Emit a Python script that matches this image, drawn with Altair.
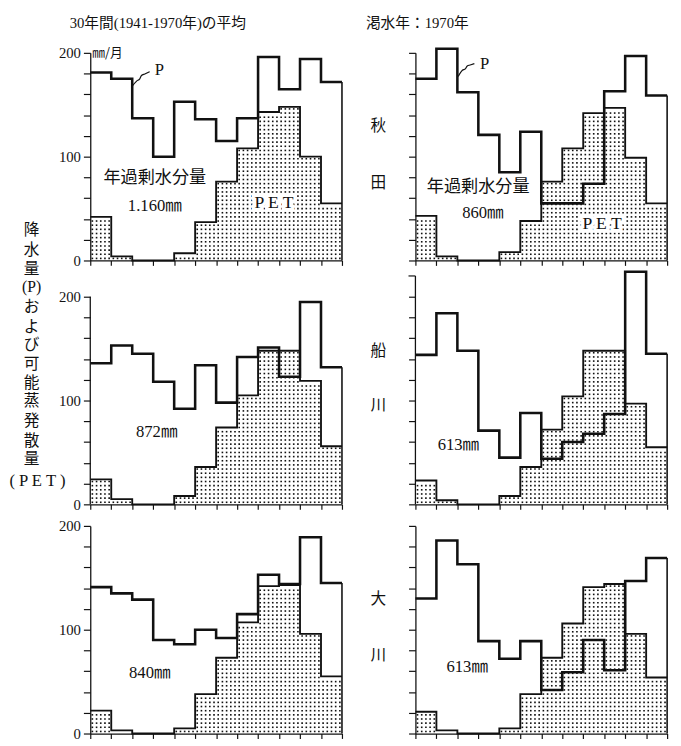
import altair as alt
import pandas as pd

# water-year months (Nov .. Oct), 12 intervals per panel
P_akita_avg = [181, 175, 137, 100, 153, 136, 115, 137, 196, 165, 194, 172]
PET_akita_avg = [42, 4, 0, 0, 7, 37, 76, 108, 143, 148, 100, 55]
P_akita_1970 = [175, 204, 162, 121, 85, 124, 55, 55, 74, 163, 197, 159]
PET_akita_1970 = [43, 4, 0, 0, 8, 38, 76, 108, 142, 147, 99, 55]
P_funa_avg = [136, 153, 145, 118, 92, 134, 98, 142, 151, 123, 195, 132]
PET_funa_avg = [24, 5, 0, 0, 8, 36, 74, 105, 148, 148, 119, 56]
P_funa_1970 = [144, 184, 148, 71, 45, 88, 44, 60, 68, 87, 224, 145]
PET_funa_1970 = [23, 4, 0, 0, 8, 36, 72, 104, 148, 148, 97, 55]
P_oga_avg = [141, 135, 129, 90, 86, 100, 92, 115, 153, 144, 189, 145]
PET_oga_avg = [22, 3, 0, 0, 5, 38, 73, 107, 142, 143, 96, 55]
P_oga_1970 = [130, 186, 163, 89, 72, 89, 42, 59, 90, 61, 147, 169]
PET_oga_1970 = [21, 3, 0, 0, 5, 38, 73, 106, 141, 144, 96, 54]

surplus_labels = ["1.160㎜", "860㎜", "872㎜", "613㎜", "840㎜", "613㎜"]
col_titles = ["30年間(1941-1970年)の平均", "渇水年：1970年"]
station_chars = [["秋", "田"], ["船", "川"], ["大", "川"]]
ylabel_chars = ["降", "水", "量", "(P)", "お", "よ", "び", "可", "能", "蒸", "発", "散", "量"]
ylabel_vals = [264, 245, 227, 209, 190, 171, 153, 135, 117, 99, 80, 61, 44]

SERIF = "Liberation Serif, Noto Sans CJK JP"
CJK = "Noto Sans CJK JP"
W, H = 257, 212
H2 = 227  # middle row: extra room above the 200 level
INK = "#111111"


def step_df(vals):
    return pd.DataFrame({"x": list(range(13)), "v": list(vals) + [vals[-1]]})


def dots_df(pet):
    rows = []
    for i, p in enumerate(pet):
        for j in range(5):
            xx = i + 0.1 + 0.2 * j
            yy = 2.0
            while yy <= p - 1.5:
                rows.append((xx, yy))
                yy += 4.0
    return pd.DataFrame(rows, columns=["x", "v"])


def enc(show_labels, ymax, ydomain):
    xs = alt.X("x:Q", scale=alt.Scale(domain=[0, 12], nice=False, zero=False),
               axis=alt.Axis(values=list(range(13)), labels=False, tickSize=5,
                             title=None, grid=False))
    ys = alt.Y("v:Q", scale=alt.Scale(domain=[0, ymax], nice=False),
               axis=alt.Axis(values=list(range(0, 201, 20)), labels=show_labels,
                             labelExpr="datum.value % 100 == 0 ? datum.label : ''",
                             labelFont="Liberation Serif", labelFontSize=15,
                             labelColor=INK, labelPadding=3, tickSize=7,
                             domain=ydomain, title=None, grid=False))
    return xs, ys


def text_layer(df, font, size, xs, ys, halo=False, align="center"):
    base = alt.Chart(df)
    layers = []
    if halo:
        layers.append(base.mark_text(font=font, fontSize=size, fill="white",
                                     stroke="white", strokeWidth=7, align=align,
                                     baseline="middle").encode(x=xs, y=ys, text="t:N"))
    layers.append(base.mark_text(font=font, fontSize=size, color=INK, align=align,
                                 baseline="middle").encode(x=xs, y=ys, text="t:N"))
    return layers


def panel(P, PET, left, extras, height=H, axis_top=None):
    ymax = 200.0 * height / H
    xs, ys = enc(left, ymax, axis_top is None)
    layers = [
        alt.Chart(dots_df(PET)).mark_square(size=2.7, color=INK, opacity=1).encode(x=xs, y=ys),
        alt.Chart(step_df(PET)).mark_line(interpolate="step-after", color=INK,
                                          strokeWidth=1.9).encode(x=xs, y=ys),
        alt.Chart(step_df(P)).mark_line(interpolate="step-after", color=INK,
                                        strokeWidth=2.6).encode(x=xs, y=ys),
        alt.Chart(pd.DataFrame({"x": [12], "v": [0], "v2": [P[-1]]})).mark_rule(
            color=INK, strokeWidth=1.6).encode(x=xs, y=ys, y2="v2:Q"),
    ]
    if axis_top is not None:
        layers.append(alt.Chart(pd.DataFrame({"x": [0], "v": [0], "v2": [axis_top]})).mark_rule(
            color=INK, strokeWidth=1.3).encode(x=xs, y=ys, y2="v2:Q"))
    layers += extras(xs, ys)
    return alt.layer(*layers).properties(width=W, height=height)


def ex_akita_avg(xs, ys):
    out = []
    out += text_layer(pd.DataFrame({"x": [3.22], "v": [229], "t": [col_titles[0]]}), SERIF, 15, xs, ys)
    out += text_layer(pd.DataFrame({"x": [0.1], "v": [200], "t": ["㎜/月"]}), CJK, 13, xs, ys, align="left")
    out += text_layer(pd.DataFrame({"x": [3.3], "v": [183], "t": ["P"]}), SERIF, 17, xs, ys)
    ptr = pd.DataFrame({"x": [1.97, 2.21, 2.36, 2.44, 2.60, 2.83],
                        "v": [167.2, 172.8, 175.0, 178.2, 179.7, 181.9]})
    out.append(alt.Chart(ptr).mark_line(color=INK, strokeWidth=1.2, interpolate="monotone").encode(x=xs, y=ys))
    out += text_layer(pd.DataFrame({"x": [3.08], "v": [79.6], "t": ["年過剰水分量"]}), CJK, 17.5, xs, ys)
    out += text_layer(pd.DataFrame({"x": [3.08], "v": [52.4], "t": [surplus_labels[0]]}), SERIF, 17, xs, ys)
    out += text_layer(pd.DataFrame({"x": [8.76], "v": [55], "t": ["P E T"]}), SERIF, 18, xs, ys, halo=True)
    return out


def ex_akita_1970(xs, ys):
    out = []
    out += text_layer(pd.DataFrame({"x": [0.09], "v": [229], "t": [col_titles[1]]}), SERIF, 15, xs, ys)
    out += text_layer(pd.DataFrame({"x": [-1.77, -1.77], "v": [129.5, 75], "t": station_chars[0]}), CJK, 16, xs, ys)
    out += text_layer(pd.DataFrame({"x": [3.3], "v": [189], "t": ["P"]}), SERIF, 17, xs, ys)
    ptr = pd.DataFrame({"x": [2.04, 2.24, 2.38, 2.47, 2.61, 2.81],
                        "v": [177.2, 183.2, 184.6, 187.4, 188.3, 189.6]})
    out.append(alt.Chart(ptr).mark_line(color=INK, strokeWidth=1.2, interpolate="monotone").encode(x=xs, y=ys))
    out += text_layer(pd.DataFrame({"x": [2.99], "v": [70.3], "t": ["年過剰水分量"]}), CJK, 17.5, xs, ys)
    out += text_layer(pd.DataFrame({"x": [3.22], "v": [45.8], "t": [surplus_labels[1]]}), SERIF, 17, xs, ys)
    out += text_layer(pd.DataFrame({"x": [8.9], "v": [35.5], "t": ["P E T"]}), SERIF, 18, xs, ys, halo=True)
    return out


def ex_funa_avg(xs, ys):
    out = []
    out += text_layer(pd.DataFrame({"x": [-2.8] * len(ylabel_chars), "v": ylabel_vals,
                                    "t": ylabel_chars}), SERIF, 16, xs, ys)
    out += text_layer(pd.DataFrame({"x": [-2.52], "v": [22], "t": ["( P E T )"]}), SERIF, 17, xs, ys)
    out += text_layer(pd.DataFrame({"x": [3.17], "v": [69.4], "t": [surplus_labels[2]]}), SERIF, 17, xs, ys)
    return out


def ex_funa_1970(xs, ys):
    out = []
    out += text_layer(pd.DataFrame({"x": [-1.77, -1.77], "v": [148, 96], "t": station_chars[1]}), CJK, 16, xs, ys)
    out += text_layer(pd.DataFrame({"x": [2.05], "v": [57.2], "t": [surplus_labels[3]]}), SERIF, 17, xs, ys)
    out.append(alt.Chart(pd.DataFrame({"x": [-0.33], "x2": [0], "v": [220]})).mark_rule(
        color=INK, strokeWidth=1.2).encode(x=xs, x2="x2:Q", y=ys))
    return out


def ex_oga_avg(xs, ys):
    return text_layer(pd.DataFrame({"x": [2.84], "v": [58.1], "t": [surplus_labels[4]]}), SERIF, 17, xs, ys)


def ex_oga_1970(xs, ys):
    out = []
    out += text_layer(pd.DataFrame({"x": [-1.77, -1.77], "v": [129.7, 76], "t": station_chars[2]}), CJK, 16, xs, ys)
    out += text_layer(pd.DataFrame({"x": [2.47], "v": [63.7], "t": [surplus_labels[5]]}), SERIF, 17, xs, ys)
    return out


p11 = panel(P_akita_avg, PET_akita_avg, True, ex_akita_avg)
p12 = panel(P_akita_1970, PET_akita_1970, False, ex_akita_1970)
p21 = panel(P_funa_avg, PET_funa_avg, True, ex_funa_avg, height=H2, axis_top=200)
p22 = panel(P_funa_1970, PET_funa_1970, False, ex_funa_1970, height=H2, axis_top=220)
p31 = panel(P_oga_avg, PET_oga_avg, True, ex_oga_avg)
p32 = panel(P_oga_1970, PET_oga_1970, False, ex_oga_1970)

chart = alt.concat(p11, p12, p21, p22, p31, p32, columns=2,
                   spacing={"row": 22, "column": 75}, bounds="flush").properties(padding=0)
chart = chart.configure_view(stroke=None).configure_axis(
    domainColor=INK, tickColor=INK, domainWidth=1.3, tickWidth=1.2)

chart.save("out.html", embed_options={"renderer": "svg", "actions": False})
